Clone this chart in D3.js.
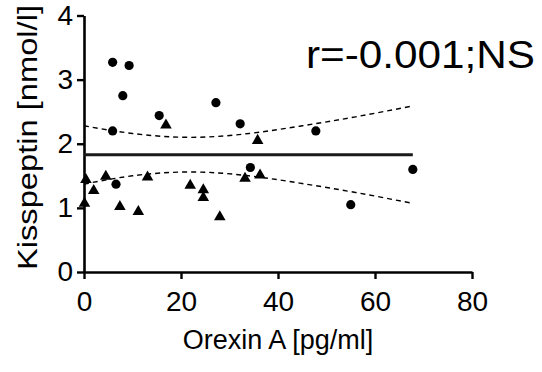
<!DOCTYPE html>
<html>
<head>
<meta charset="utf-8">
<script src="https://cdn.jsdelivr.net/npm/d3@7"></script>
<style>
  body { margin: 0; background: #fff; }
  svg { display: block; font-family: "Liberation Sans", Arial, sans-serif; }
</style>
</head>
<body>
<svg id="chart" width="542" height="372"></svg>
<script>
// circles group (orexin, kisspeptin)
var circleX = [5.9, 9.3, 8.0, 15.5, 5.9, 6.6, 27.2, 32.2, 34.3, 47.8, 67.8, 55.0];
var circleY = [3.27, 3.22, 2.75, 2.44, 2.20, 1.37, 2.64, 2.31, 1.63, 2.20, 1.60, 1.05];
// triangles group
var triX = [16.9, 0.4, 2.0, 0.1, 4.5, 7.4, 11.2, 13.1, 21.9, 35.8, 24.6, 24.6, 28.0, 33.2, 36.3];
var triY = [2.29, 1.44, 1.27, 1.07, 1.49, 1.02, 0.94, 1.48, 1.35, 2.05, 1.28, 1.16, 0.86, 1.46, 1.51];
// regression line and 95% band
var fitX = [0, 67.8];
var fitY = [1.83, 1.83];
var bandX = [0, 10, 22, 34, 45, 56, 67.8];
var bandUpper = [2.28, 2.16, 2.10, 2.16, 2.28, 2.42, 2.59];
var bandLower = [1.37, 1.50, 1.56, 1.50, 1.38, 1.24, 1.07];
var xTicks = [0, 20, 40, 60, 80];
var yTicks = [0, 1, 2, 3, 4];

var svg = d3.select("#chart");
var x = d3.scaleLinear().domain([0, 80]).range([84, 472]);
var y = d3.scaleLinear().domain([0, 4]).range([272, 15.5]);

// axes
var xAxis = svg.append("g")
    .attr("transform", "translate(0," + y(0) + ")")
    .call(d3.axisBottom(x).tickValues(xTicks).tickFormat(d3.format("d"))
        .tickSize(7).tickSizeOuter(0).tickPadding(12));
var yAxis = svg.append("g")
    .attr("transform", "translate(" + x(0) + ",0)")
    .call(d3.axisLeft(y).tickValues(yTicks).tickFormat(d3.format("d"))
        .tickSize(7).tickSizeOuter(0).tickPadding(4));

[xAxis, yAxis].forEach(function (g) {
    g.select(".domain").attr("stroke", "#000").attr("stroke-width", 2.6);
    g.selectAll(".tick line").attr("stroke", "#000").attr("stroke-width", 2.4);
    g.selectAll(".tick text")
        .attr("fill", "#000")
        .attr("font-size", 28)
        .attr("font-family", "Liberation Sans, Arial, sans-serif");
});

// confidence band
function bandLine(vals) {
    return d3.line()
        .x(function (d, i) { return x(bandX[i]); })
        .y(function (d) { return y(d); })
        .curve(d3.curveNatural)(vals);
}
[bandUpper, bandLower].forEach(function (vals) {
    svg.append("path")
        .attr("d", bandLine(vals))
        .attr("fill", "none")
        .attr("stroke", "#000")
        .attr("stroke-width", 1.4)
        .attr("stroke-dasharray", "5,4");
});

// fit line
svg.append("path")
    .attr("d", d3.line()
        .x(function (d, i) { return x(fitX[i]); })
        .y(function (d) { return y(d); })(fitY))
    .attr("fill", "none")
    .attr("stroke", "#1a1a1a")
    .attr("stroke-width", 3);

// points
svg.append("g").selectAll("circle")
    .data(circleX)
    .enter().append("circle")
    .attr("cx", function (d) { return x(d); })
    .attr("cy", function (d, i) { return y(circleY[i]); })
    .attr("r", 4.6)
    .attr("fill", "#000");

var tri = d3.symbol().type(d3.symbolTriangle).size(58);
svg.append("g").selectAll("path")
    .data(triX)
    .enter().append("path")
    .attr("d", tri)
    .attr("transform", function (d, i) {
        return "translate(" + x(d) + "," + y(triY[i]) + ")";
    })
    .attr("fill", "#000");

// labels
svg.append("text")
    .attr("x", x(40))
    .attr("y", 349)
    .attr("text-anchor", "middle")
    .attr("font-size", 27)
    .text("Orexin A [pg/ml]");

svg.append("text")
    .attr("transform", "translate(37," + 137.5 + ") rotate(-90)")
    .attr("text-anchor", "middle")
    .attr("font-size", 27)
    .attr("textLength", 265)
    .attr("lengthAdjust", "spacingAndGlyphs")
    .text("Kisspeptin [nmol/l]");

svg.append("text")
    .attr("x", 306)
    .attr("y", 68)
    .attr("font-size", 39)
    .attr("textLength", 229)
    .attr("lengthAdjust", "spacingAndGlyphs")
    .text("r=-0.001;NS");
</script>
</body>
</html>
